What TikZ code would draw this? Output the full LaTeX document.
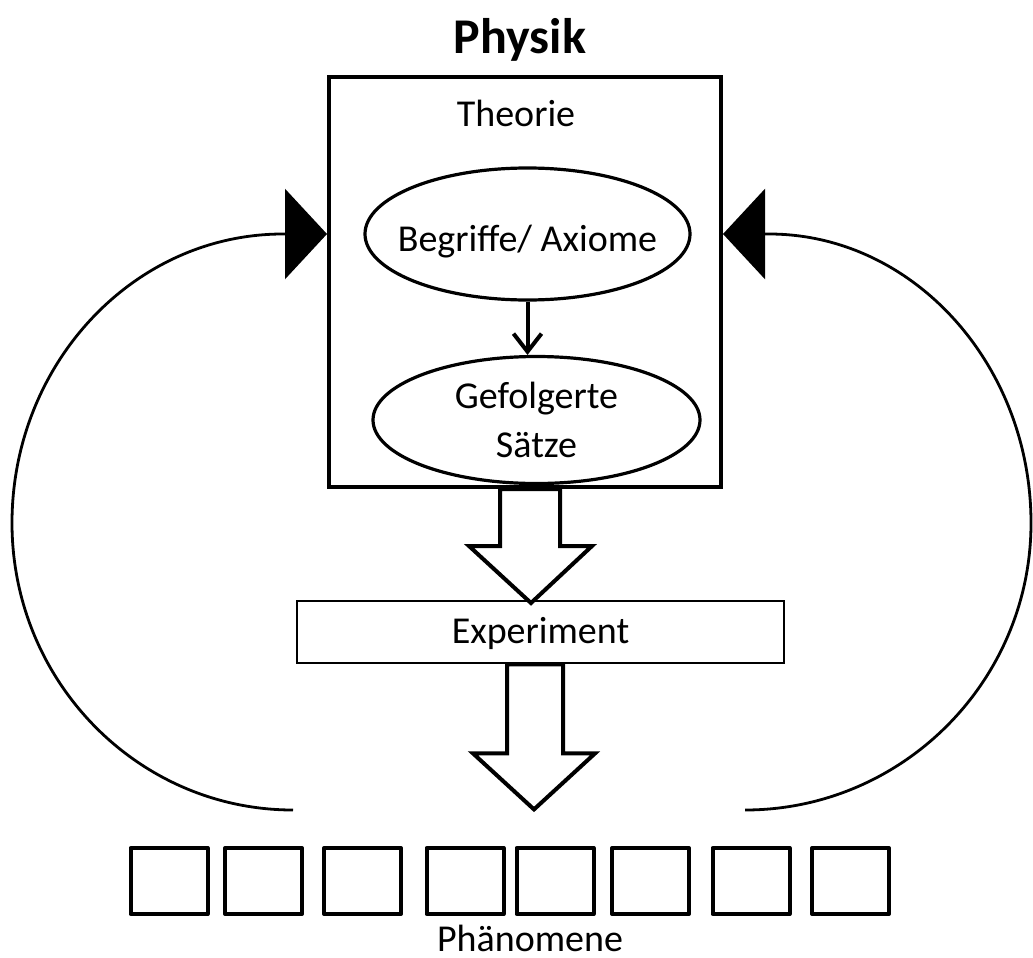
\documentclass[tikz,border=0pt]{standalone}
\usepackage{fontspec}
\setmainfont{Carlito}
\usetikzlibrary{arrows.meta,shapes.geometric,calc}
\begin{document}
\begin{tikzpicture}[x=0.5pt,y=-0.5pt,
  txt/.style={font=\fontsize{19}{24.5}\selectfont},
  mainbox/.style={draw,line width=2pt,minimum width=196pt,minimum height=205pt,inner sep=0pt},
  ellnode/.style={ellipse,draw,line width=1.6pt,inner sep=0pt,txt,align=center},
  expbox/.style={draw,line width=1.4pt,minimum width=243.5pt,minimum height=31pt,inner sep=0pt,txt,text height=12pt,text depth=1pt},
  phbox/.style={draw,line width=2pt,minimum width=38.5pt,minimum height=33pt,inner sep=0pt,line join=round},
  curve/.style={line width=1.4pt,-{Triangle[length=21pt,width=45pt]}},
  blockarrow/.style={draw,fill=white,line width=2pt,line join=miter},
  innerarrow/.style={line width=2pt,-{Straight Barb[length=9pt,width=14pt]}}
  ]
  \useasboundingbox (0,0) rectangle (1033,958);

  % title
  \node[anchor=base,font=\fontsize{25}{30}\selectfont\bfseries] (physik) at (520,53) {Physik};

  % theory box
  \node[mainbox] (box) at (525,282) {};
  \node[anchor=base,txt] (theorie) at (516,126) {Theorie};

  \node[ellnode,minimum width=162.5pt,minimum height=66pt,text height=17pt,text depth=0pt] (ell1) at (527.5,234) {\makebox[0pt][c]{Begriffe/ Axiome}};
  \node[ellnode,minimum width=163.5pt,minimum height=63.5pt] (ell2) at (536.5,420) {Gefolgerte\\Sätze};

  \draw[innerarrow] (ell1.south) -- (ell1.south |- ell2.north);

  % experiment
  \node[expbox] (exp) at (540.5,632) {Experiment};

  % block arrow box -> experiment
  \draw[blockarrow]
    ($(box.south)+(-25,0)$) -- ($(box.south)+(-25,57)$) -- ($(box.south)+(-56,57)$)
    -- ($(box.south)+(6,114)$) -- ($(box.south)+(67,57)$) -- ($(box.south)+(35,57)$)
    -- ($(box.south)+(35,0)$) -- cycle;

  % block arrow experiment -> phenomena
  \draw[blockarrow]
    ($(exp.south)+(-33.5,0)$) -- ($(exp.south)+(-33.5,89)$) -- ($(exp.south)+(-67.5,89)$)
    -- ($(exp.south)+(-6.5,145)$) -- ($(exp.south)+(54.5,89)$) -- ($(exp.south)+(22.5,89)$)
    -- ($(exp.south)+(22.5,0)$) -- cycle;

  % phenomena boxes
  \foreach \i/\xx in {1/169,2/263.5,3/362.5,4/465,5/555,6/650.5,7/751,8/850.5}
    \node[phbox] (p\i) at (\xx,881) {};
  \node[anchor=base,txt] (phaen) at (530,951) {Phänomene};

  % feedback curves
  \coordinate (lstart) at (293,810);
  \coordinate (rstart) at (745,810);
  \draw[curve] (lstart) .. controls (138,810) and (12,681.5) .. (12,523)
     .. controls (12,364.5) and (133,234) .. (283,234) -- (box.west |- ell1.center);
  \draw[curve] (rstart) .. controls (902,810) and (1031,681.5) .. (1031,523)
     .. controls (1031,364.5) and (913,234) .. (769,234) -- (box.east |- ell1.center);
\end{tikzpicture}
\end{document}
